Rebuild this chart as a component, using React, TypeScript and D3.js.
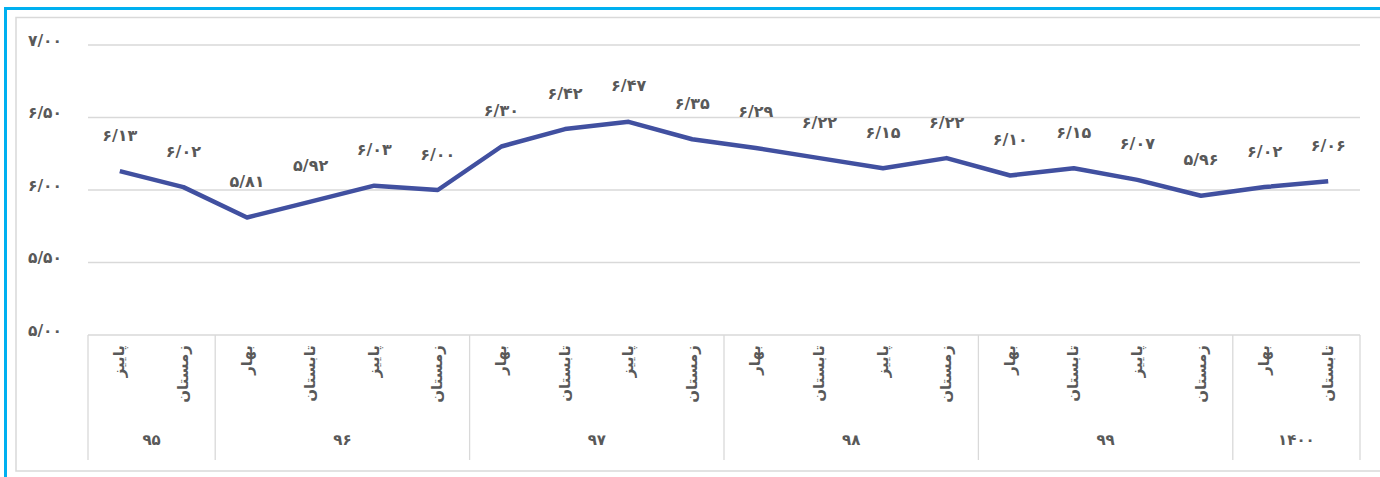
import React from "react";
import * as d3 from "d3";

// fiscal years and the seasons that fall inside each one
const years = ["95", "96", "97", "98", "99", "1400"];
const yearSeasons = [
  ["پاییز", "زمستان"],
  ["بهار", "تابستان", "پاییز", "زمستان"],
  ["بهار", "تابستان", "پاییز", "زمستان"],
  ["بهار", "تابستان", "پاییز", "زمستان"],
  ["بهار", "تابستان", "پاییز", "زمستان"],
  ["بهار", "تابستان"],
];
const values = [
  6.13, 6.02, 5.81, 5.92, 6.03, 6.0, 6.3, 6.42, 6.47, 6.35, 6.29, 6.22, 6.15,
  6.22, 6.1, 6.15, 6.07, 5.96, 6.02, 6.06,
];
const yTicks = [5, 5.5, 6, 6.5, 7];

const faDigits = "۰۱۲۳۴۵۶۷۸۹";
const toFa = (s: string) => s.replace(/[0-9]/g, (d) => faDigits[+d]);
const fmt = (v: number) => toFa(v.toFixed(2).replace(".", "/"));

const W = 1380;
const H = 477;
const margin = { left: 88, right: 20, top: 45, plotBottom: 335 };
const textColor = "#595959";
const grid = "#d9d9d9";
const font = "'DejaVu Sans', sans-serif";

export default function App() {
  const points = yearSeasons.flatMap((ss, yi) =>
    ss.map((s, si) => ({ year: years[yi], season: s, key: `${yi}-${si}` }))
  );
  const data = points.map((p, i) => ({ ...p, value: values[i] }));

  const x = d3
    .scaleBand<string>()
    .domain(data.map((d) => d.key))
    .range([margin.left, 1360]);
  const y = d3
    .scaleLinear()
    .domain([5, 7])
    .range([margin.plotBottom, margin.top]);

  const cx = (k: string) => (x(k) ?? 0) + x.bandwidth() / 2;

  const line = d3
    .line<(typeof data)[number]>()
    .x((d) => cx(d.key))
    .y((d) => y(d.value));

  // group boundaries
  let idx = 0;
  const groups = yearSeasons.map((ss, yi) => {
    const first = data[idx].key;
    const last = data[idx + ss.length - 1].key;
    idx += ss.length;
    const x0 = x(first) ?? 0;
    const x1 = (x(last) ?? 0) + x.bandwidth();
    return { label: toFa(years[yi]), x0, x1 };
  });

  return (
    <svg
      width={W}
      height={H}
      style={{ position: "absolute", left: 0, top: 0, background: "#fff" }}
      fontFamily={font}
    >
      <rect x={5.5} y={8.5} width={W + 10} height={H + 10} fill="none" stroke="#00b0f0" strokeWidth={3} />
      <rect x={16} y={17.5} width={W} height={453.5} fill="none" stroke={grid} strokeWidth={1.5} />

      {yTicks.map((t) => (
        <g key={t}>
          <line x1={margin.left} x2={1360} y1={y(t)} y2={y(t)} stroke={grid} strokeWidth={1.3} />
          <text
            x={62}
            y={y(t) - 4}
            textAnchor="end"
            dominantBaseline="middle"
            fontSize={15.5}
            fontWeight="bold"
            fill={textColor}
          >
            {fmt(t)}
          </text>
        </g>
      ))}

      {groups.map((g, i) => (
        <g key={i}>
          {i === 0 && (
            <line x1={g.x0} x2={g.x0} y1={margin.plotBottom} y2={460} stroke={grid} strokeWidth={1.3} />
          )}
          <line x1={g.x1} x2={g.x1} y1={margin.plotBottom} y2={460} stroke={grid} strokeWidth={1.3} />
          <text
            x={(g.x0 + g.x1) / 2}
            y={440}
            textAnchor="middle"
            dominantBaseline="middle"
            fontSize={15}
            fontWeight="bold"
            fill={textColor}
          >
            {g.label}
          </text>
        </g>
      ))}

      {data.map((d) => (
        <text
          key={d.key}
          transform={`translate(${cx(d.key)},${345}) rotate(-90)`}
          textAnchor="end"
          dominantBaseline="middle"
          fontSize={15}
          fontWeight="bold"
          fill={textColor}
        >
          {d.season}
        </text>
      ))}

      <path d={line(data) ?? ""} fill="none" stroke="#4150a0" strokeWidth={4.5} strokeLinejoin="round" />

      {data.map((d) => (
        <text
          key={"l" + d.key}
          x={cx(d.key)}
          y={y(d.value) - 35}
          textAnchor="middle"
          dominantBaseline="middle"
          fontSize={16}
          fontWeight="bold"
          fill={textColor}
        >
          {fmt(d.value)}
        </text>
      ))}
    </svg>
  );
}
